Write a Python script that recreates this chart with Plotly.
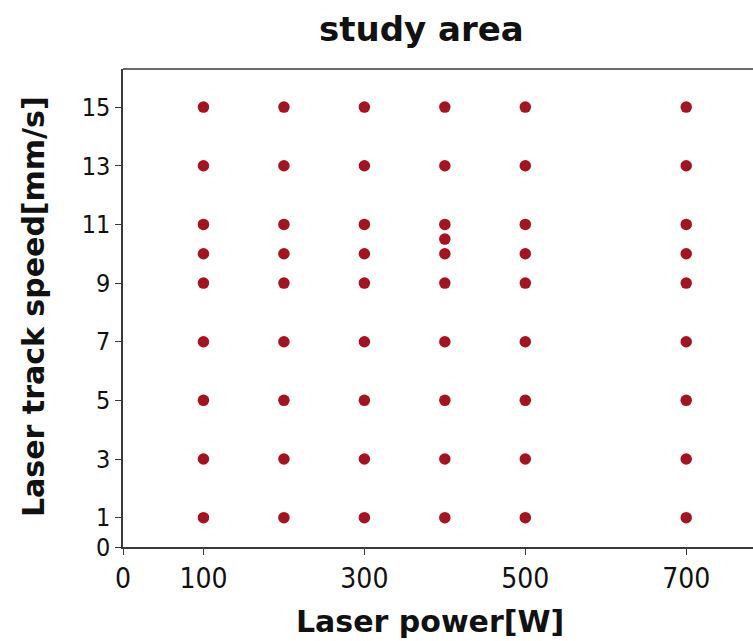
import plotly.graph_objects as go

# Experimental grid: laser power levels and track speeds tested
powers = [100, 200, 300, 400, 500, 700]
speeds = [1, 3, 5, 7, 9, 10, 11, 13, 15]
extra_power = [400]
extra_speed = [10.5]

x_ticks = [0, 100, 300, 500, 700]
y_ticks = [0, 1, 3, 5, 7, 9, 11, 13, 15]

xs, ys = [], []
for p in powers:
    for s in speeds:
        xs.append(p)
        ys.append(s)
xs += extra_power
ys += extra_speed

tick_font = "DejaVu Sans Condensed, DejaVu Sans, sans-serif"
title_font = "DejaVu Sans, sans-serif"

fig = go.Figure(
    go.Scatter(
        x=xs, y=ys, mode="markers",
        marker=dict(size=11.5, color="#a3141f"),
        showlegend=False,
    )
)

axis_common = dict(
    showgrid=False, zeroline=False, showline=True,
    linecolor="#3a3a3a", linewidth=1.5,
    ticks="outside", ticklen=6, tickcolor="#3a3a3a", tickwidth=1,
)

fig.update_xaxes(range=[0, 783], tickvals=x_ticks, mirror=False,
                 tickfont=dict(family=tick_font, size=28, color="#111111"),
                 **axis_common)
fig.update_yaxes(range=[0, 16.3], tickvals=y_ticks, mirror=False,
                 tickfont=dict(family=tick_font, size=25, color="#111111"),
                 **axis_common)

fig.update_layout(
    width=753, height=641,
    margin=dict(l=123, r=0, t=69, b=94),
    plot_bgcolor="white", paper_bgcolor="white",
    shapes=[dict(type="line", xref="paper", yref="paper",
                 x0=0, x1=1, y0=1, y1=1,
                 line=dict(color="#3a3a3a", width=1.5))],
    annotations=[
        dict(text="<b>study area</b>", xref="paper", yref="paper",
             x=(421 - 123) / 630, y=1, yshift=40, showarrow=False,
             xanchor="center", yanchor="middle",
             font=dict(family=title_font, size=34, color="#111111")),
        dict(text="<b>Laser power[W]</b>", xref="paper", yref="paper",
             x=(430 - 123) / 630, y=0, yshift=-74, showarrow=False,
             xanchor="center", yanchor="middle",
             font=dict(family=title_font, size=30, color="#111111")),
        dict(text="<b>Laser track speed[mm/s]</b>", xref="paper", yref="paper",
             x=0, xshift=-90, y=(547 - 307) / 478, showarrow=False,
             textangle=-90, xanchor="center", yanchor="middle",
             font=dict(family=title_font, size=30, color="#111111")),
    ],
)

fig.write_html("out.html")
